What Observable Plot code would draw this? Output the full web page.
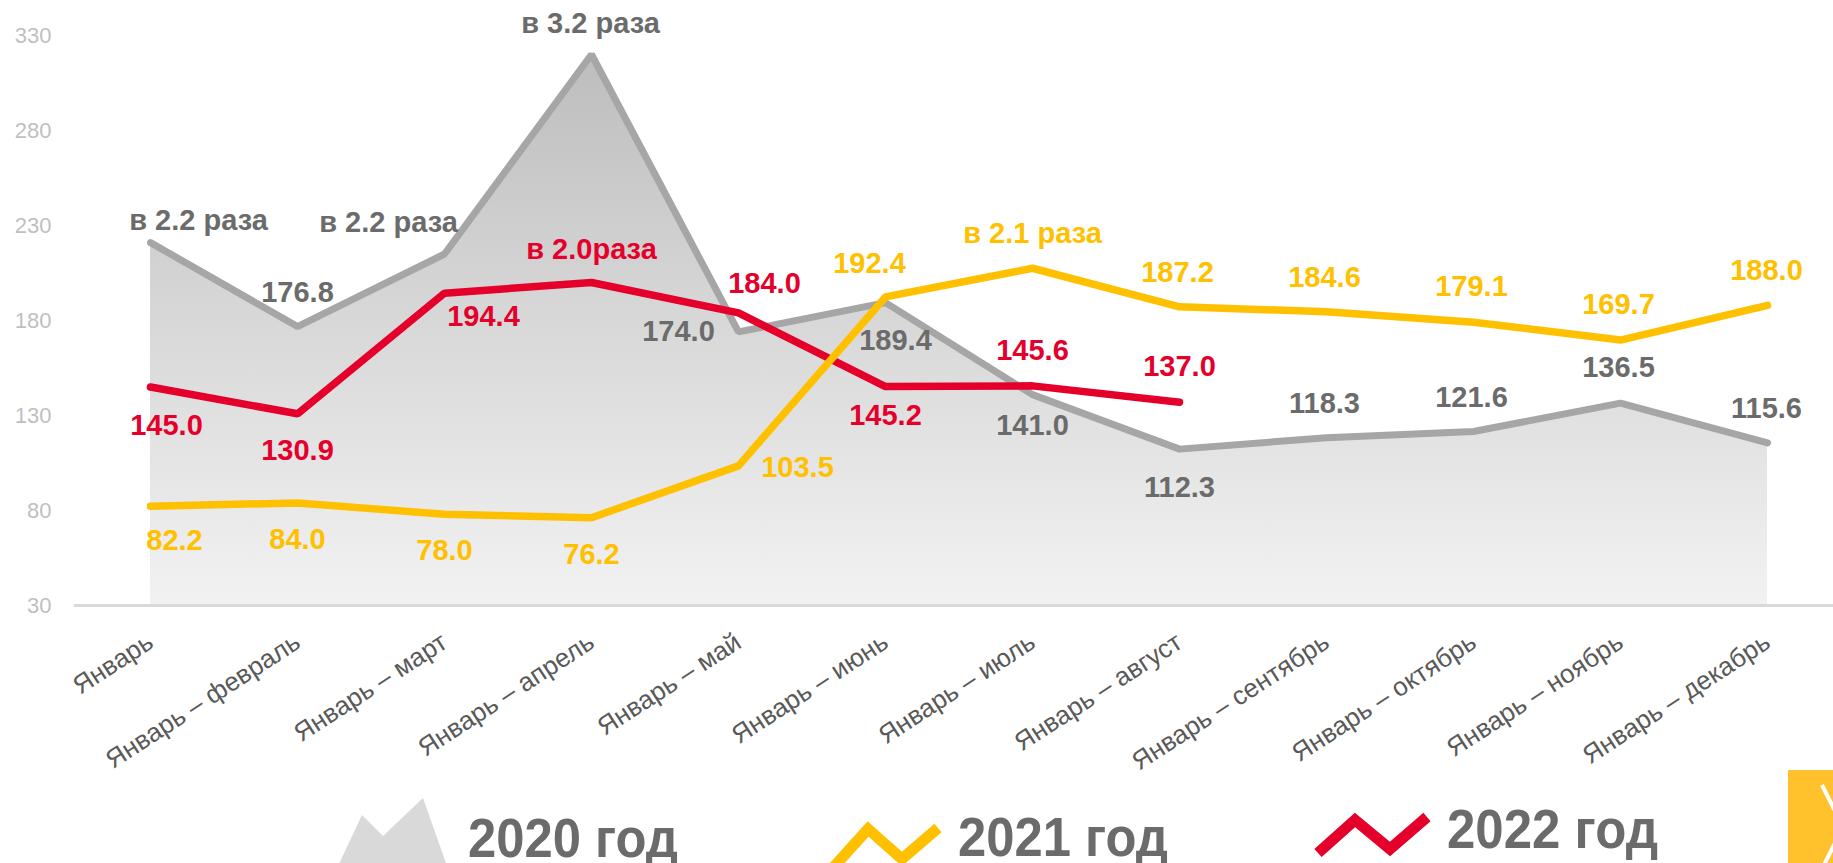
<!DOCTYPE html>
<html>
<head>
<meta charset="utf-8">
<script src="https://cdn.jsdelivr.net/npm/d3@7"></script>
<script src="https://cdn.jsdelivr.net/npm/@observablehq/plot@0.6"></script>
<style>
  html, body { margin: 0; padding: 0; background: #fff; overflow: hidden; }
  #chart { width: 1833px; height: 765px; }
  #chart svg { display: block; }
  #legend { display: block; }
  #legend text { font-family: "Liberation Sans", Arial, sans-serif; font-weight: bold; font-size: 56px; fill: #6b6b6b; }
</style>
</head>
<body>
<div id="chart"></div>
<svg id="legend" width="1833" height="98" viewBox="0 765 1833 98" xmlns="http://www.w3.org/2000/svg">
  <polygon points="338,866 362,815 383,836 423,798 447,866" fill="#d9d9d9"/>
  <text x="468" y="857" textLength="210" lengthAdjust="spacingAndGlyphs">2020 год</text>
  <polyline points="831,870 868,829 902,859 938,828" fill="none" stroke="#ffc000" stroke-width="11" stroke-linejoin="miter"/>
  <text x="958" y="856" textLength="210" lengthAdjust="spacingAndGlyphs">2021 год</text>
  <polyline points="1318,853 1355,820 1390,849 1427,817" fill="none" stroke="#e4002b" stroke-width="11" stroke-linejoin="miter"/>
  <text x="1447" y="848" textLength="211" lengthAdjust="spacingAndGlyphs">2022 год</text>
  <rect x="1788" y="770" width="45" height="93" fill="#ffc22d"/>
  <polyline points="1822,785 1843,827 1822,869" fill="none" stroke="#fff" stroke-width="4"/>
</svg>
<script>
// ---- data ----
const months = [
  "Январь", "Январь – февраль", "Январь – март", "Январь – апрель",
  "Январь – май", "Январь – июнь", "Январь – июль", "Январь – август",
  "Январь – сентябрь", "Январь – октябрь", "Январь – ноябрь", "Январь – декабрь"
];
const yTicks = [30, 80, 130, 180, 230, 280, 330];

const values2020 = [221.0, 176.8, 215.0, 320.0, 174.0, 189.4, 141.0, 112.3, 118.3, 121.6, 136.5, 115.6];
const labels2020 = ["в 2.2 раза", "176.8", "в 2.2 раза", "в 3.2 раза", "174.0", "189.4", "141.0", "112.3", "118.3", "121.6", "136.5", "115.6"];

const values2021 = [82.2, 84.0, 78.0, 76.2, 103.5, 192.4, 207.5, 187.2, 184.6, 179.1, 169.7, 188.0];
const labels2021 = ["82.2", "84.0", "78.0", "76.2", "103.5", "192.4", "в 2.1 раза", "187.2", "184.6", "179.1", "169.7", "188.0"];

const values2022 = [145.0, 130.9, 194.4, 200.0, 184.0, 145.2, 145.6, 137.0];
const labels2022 = ["145.0", "130.9", "194.4", "в 2.0раза", "184.0", "145.2", "145.6", "137.0"];

// ---- label layout (pixel offsets from each point) ----
const offsets2020 = [[48,-22],[0,-34],[-56,-31],[-1,-31],[-60,0],[10,38],[0,31],[0,39],[-2,-34],[-2,-34],[-2,-35],[-1,-34]];
const offsets2021 = [[24,34],[0,37],[0,36],[0,37],[59,2],[-16,-33],[0,-35],[-2,-34],[-2,-34],[-2,-35],[-2,-35],[-1,-35]];
const offsets2022 = [[16,39],[0,37],[39,24],[0,-33],[26,-29],[0,29],[0,-35],[0,-35]];

const GRAY = "#a6a6a6", GRAY_TEXT = "#6b6b6b", YELLOW = "#ffc000", RED = "#e4002b";

function series(values, labels, offsets) {
  return values.map((v, i) => ({month: months[i], value: v, label: labels[i], dx: offsets[i][0], dy: offsets[i][1]}));
}
const s2020 = series(values2020, labels2020, offsets2020);
const s2021 = series(values2021, labels2021, offsets2021);
const s2022 = series(values2022, labels2022, offsets2022);

function labelMarks(data, fill) {
  return data.map(d => Plot.text([d], {
    x: "month", y: "value", text: "label",
    dx: d.dx, dy: d.dy, fill, fontWeight: "bold", fontSize: 29
  }));
}

const gradientDefs = () => {
  const ns = "http://www.w3.org/2000/svg";
  const defs = document.createElementNS(ns, "defs");
  const g = document.createElementNS(ns, "linearGradient");
  g.setAttribute("id", "grad2020");
  g.setAttribute("x1", "0"); g.setAttribute("y1", "0");
  g.setAttribute("x2", "0"); g.setAttribute("y2", "1");
  [["0", "#bdbdbd"], ["0.45", "#d6d6d6"], ["1", "#f2f2f2"]].forEach(([o, c]) => {
    const s = document.createElementNS(ns, "stop");
    s.setAttribute("offset", o); s.setAttribute("stop-color", c);
    g.appendChild(s);
  });
  defs.appendChild(g);
  return defs;
};

const plot = Plot.plot({
  width: 1833,
  height: 765,
  marginTop: 35,
  marginBottom: 160,
  marginLeft: 74,
  marginRight: 0,
  style: {fontFamily: "'Liberation Sans', Arial, sans-serif", background: "#fff", overflow: "visible"},
  x: {type: "point", domain: months, range: [148.5, 1769], padding: 0, label: null},
  y: {domain: [30, 330], label: null},
  marks: [
    gradientDefs,
    Plot.areaY(s2020, {x: "month", y1: () => 30, y2: "value", fill: "url(#grad2020)"}),
    Plot.ruleY([30], {stroke: "#d9d9d9", strokeWidth: 3}),
    Plot.axisY({ticks: yTicks, tickSize: 0, tickPadding: 23, fontSize: 22, color: "#bfbfbf"}),
    Plot.axisX({tickSize: 0, tickPadding: 34, tickRotate: -33, fontSize: 26, color: "#595959"}),
    Plot.lineY(s2020, {x: "month", y: "value", stroke: GRAY, strokeWidth: 7, strokeLinejoin: "miter", strokeLinecap: "round"}),
    Plot.lineY(s2022, {x: "month", y: "value", stroke: RED, strokeWidth: 7.5, strokeLinejoin: "miter", strokeLinecap: "round"}),
    Plot.lineY(s2021, {x: "month", y: "value", stroke: YELLOW, strokeWidth: 7.5, strokeLinejoin: "miter", strokeLinecap: "round"}),
    ...labelMarks(s2020, GRAY_TEXT),
    ...labelMarks(s2021, YELLOW),
    ...labelMarks(s2022, RED)
  ]
});
document.getElementById("chart").appendChild(plot);
</script>
</body>
</html>
